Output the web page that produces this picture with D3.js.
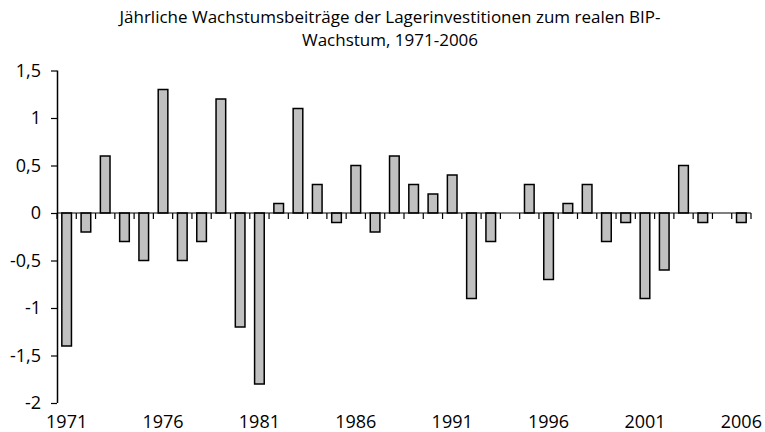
<!DOCTYPE html>
<html>
<head>
<meta charset="utf-8">
<script src="https://cdn.jsdelivr.net/npm/d3@7"></script>
<style>
    body { margin: 0; background: #fff; }
    svg text { font-family: "Open Sans", "DejaVu Sans", sans-serif; fill: #000; }
</style>
</head>
<body>
<svg id="chart" width="765" height="432"></svg>
<script>
// data
const years = d3.range(1971, 2007).map(String);
const values = [
    -1.4, -0.2, 0.6, -0.3, -0.5, 1.3, -0.5, -0.3, 1.2, -1.2,
    -1.8, 0.1, 1.1, 0.3, -0.1, 0.5, -0.2, 0.6, 0.3, 0.2,
    0.4, -0.9, -0.3, 0, 0.3, -0.7, 0.1, 0.3, -0.3, -0.1,
    -0.9, -0.6, 0.5, -0.1, 0, -0.1
];
const yTicks = [-2, -1.5, -1, -0.5, 0, 0.5, 1, 1.5];
const xLabels = ["1971", "1976", "1981", "1986", "1991", "1996", "2001", "2006"];
const titleLines = [
    "Jährliche Wachstumsbeiträge der Lagerinvestitionen zum realen BIP-",
    "Wachstum, 1971-2006"
];

const svg = d3.select("#chart");
const margin = {top: 70.5, right: 14, bottom: 29, left: 57};
const width = 765 - margin.left - margin.right;
const height = 432 - margin.top - margin.bottom;

const x = d3.scaleBand().domain(years).range([0, width]).paddingInner(0.5).paddingOuter(0.25);
const y = d3.scaleLinear().domain([-2, 1.5]).range([height, 0]);

const g = svg.append("g")
    .attr("transform", "translate(" + margin.left + "," + margin.top + ")");

// title
svg.append("g").selectAll("text")
    .data(titleLines)
    .enter().append("text")
    .attr("x", 390)
    .attr("y", (d, i) => 23 + i * 23)
    .attr("text-anchor", "middle")
    .style("font-size", "17px")
    .text(d => d);

// bars
g.selectAll(".bar")
    .data(values.map((v, i) => ({year: years[i], v: v})).filter(d => d.v !== 0))
    .enter().append("rect")
    .attr("class", "bar")
    .attr("x", d => x(d.year))
    .attr("width", x.bandwidth())
    .attr("y", d => y(Math.max(0, d.v)))
    .attr("height", d => Math.abs(y(d.v) - y(0)))
    .style("fill", "#c0c0c0")
    .style("stroke", "#000")
    .style("stroke-width", 1.5);

// y axis
const yAxis = d3.axisLeft(y)
    .tickValues(yTicks)
    .tickSize(6)
    .tickPadding(10)
    .tickFormat(d => String(d).replace(".", ","));
const yAxisG = g.append("g").call(yAxis);
yAxisG.select(".domain").attr("d", "M0.5," + y(-2) + "V" + y(1.5)).style("stroke", "#000").style("stroke-width", 1.5);
yAxisG.selectAll(".tick line").style("stroke", "#000").style("stroke-width", 1.2);
yAxisG.selectAll("text").style("font-size", "18px").style("font-family", "'Open Sans', sans-serif");

// x axis line at zero, ticks at category boundaries
const boundaries = d3.range(years.length + 1).map(i => i * width / years.length);
const xg = g.append("g").attr("transform", "translate(0," + y(0) + ")");
xg.append("line")
    .attr("x1", 0).attr("x2", width)
    .style("stroke", "#000").style("stroke-width", 1.2);
xg.selectAll(".xtick")
    .data(boundaries)
    .enter().append("line")
    .attr("class", "xtick")
    .attr("x1", d => d).attr("x2", d => d)
    .attr("y1", 0).attr("y2", 6)
    .style("stroke", "#000").style("stroke-width", 1.2);

// category labels along the bottom
g.append("g").selectAll("text")
    .data(xLabels)
    .enter().append("text")
    .attr("x", d => x(d) + x.bandwidth() / 2)
    .attr("y", height + 25)
    .attr("text-anchor", "middle")
    .style("font-size", "18px")
    .text(d => d);
</script>
</body>
</html>
